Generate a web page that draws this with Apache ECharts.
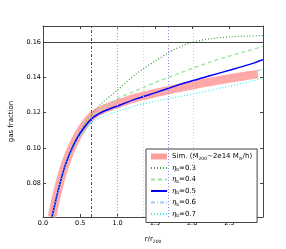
<!DOCTYPE html>
<html><head><meta charset="utf-8">
<script src="https://cdn.jsdelivr.net/npm/echarts@6/dist/echarts.min.js"></script>
<style>html,body{margin:0;padding:0;background:#fff}#c{width:286px;height:249px}</style>
</head><body><div id="c"></div>
<script>
// ---- data ----
const modelX = [0.12, 0.15, 0.2, 0.25, 0.3, 0.4, 0.5, 0.65, 0.8, 1.0, 1.25, 1.5, 1.75, 2.0, 2.25, 2.5, 2.75, 2.95];
const eta03 = [0.061, 0.0665, 0.0755, 0.0835, 0.0905, 0.1012, 0.1095, 0.119, 0.1258, 0.1328, 0.142, 0.149, 0.1555, 0.1598, 0.1618, 0.1628, 0.1633, 0.1636];
const eta04 = [0.061, 0.0665, 0.0755, 0.0835, 0.0905, 0.101, 0.109, 0.1178, 0.1225, 0.128, 0.1325, 0.137, 0.141, 0.145, 0.1487, 0.152, 0.155, 0.1575];
const eta05 = [0.061, 0.0665, 0.0755, 0.0835, 0.0905, 0.1008, 0.1085, 0.1165, 0.1205, 0.1238, 0.1278, 0.1312, 0.1347, 0.138, 0.141, 0.144, 0.147, 0.150];
const eta06 = [0.061, 0.0665, 0.0755, 0.0835, 0.0903, 0.1005, 0.108, 0.1157, 0.1195, 0.1228, 0.1265, 0.1295, 0.1325, 0.1352, 0.1378, 0.1402, 0.1425, 0.1445];
const eta07 = [0.061, 0.0665, 0.0755, 0.0833, 0.09, 0.1, 0.1072, 0.1145, 0.1178, 0.1208, 0.124, 0.1263, 0.1285, 0.1305, 0.1327, 0.135, 0.1373, 0.1393];
const simX = [0.12, 0.15, 0.2, 0.25, 0.3, 0.4, 0.5, 0.65, 0.8, 1.0, 1.25, 1.5, 1.75, 2.0, 2.25, 2.5, 2.75, 2.88];
const simY = [0.061, 0.067, 0.0762, 0.0842, 0.091, 0.1015, 0.1095, 0.1178, 0.1218, 0.125, 0.1285, 0.131, 0.1333, 0.1355, 0.1375, 0.1393, 0.141, 0.1418];
const xTicks = [0, 0.5, 1.0, 1.5, 2.0, 2.5];
const yTicks = [0.08, 0.10, 0.12, 0.14, 0.16];
const vLineX = [0.65, 1.0, 1.35, 1.68, 2.02];
const hLineY = 0.1605;
const legendLabels = {
  sim: 'Sim. (M{s|200}~2e14 M{s|⊙}/h)',
  e03: '{eta|η}{s|b}=0.3',
  e04: '{eta|η}{s|b}=0.4',
  e05: '{eta|η}{s|b}=0.5',
  e06: '{eta|η}{s|b}=0.6',
  e07: '{eta|η}{s|b}=0.7'
};

// ---- chart ----
const F = 'DejaVu Sans';
const pairs = (xs, ys) => xs.map((x, i) => [x, ys[i]]);
const spine = { color: '#444', width: 1 };
const subRich = { s: { fontFamily: F, fontSize: 4.5, padding: [4, 0, 0, 0] }, eta: { fontFamily: 'DejaVu Serif', fontStyle: 'italic', fontSize: 7 } };

const lineSeries = (name, ys, color, type, width, z) => ({
  name, type: 'line', data: pairs(modelX, ys), showSymbol: false, symbol: 'none', smooth: 0.25,
  lineStyle: { color, type, width }, itemStyle: { color }, z: z, silent: true
});

const option = {
  animation: false,
  grid: { left: 27, right: 23, top: 26, bottom: 23 },
  xAxis: [
    { type: 'value', min: 0, max: 2.95, position: 'bottom',
      axisLine: { onZero: false, lineStyle: spine },
      axisTick: { inside: true, length: 3, customValues: xTicks, lineStyle: spine },
      axisLabel: { customValues: xTicks, formatter: v => v.toFixed(1), margin: 3, fontFamily: F, fontSize: 6.5, color: '#000' },
      splitLine: { show: false },
      name: 'r/r{s|200}', nameLocation: 'middle', nameGap: 18,
      nameTextStyle: { fontFamily: F, fontSize: 7, color: '#000', rich: subRich } },
    { type: 'value', min: 0, max: 2.95, position: 'top',
      axisLine: { onZero: false, lineStyle: spine },
      axisTick: { inside: true, length: 3, customValues: xTicks, lineStyle: spine },
      axisLabel: { show: false }, splitLine: { show: false } }
  ],
  yAxis: [
    { type: 'value', min: 0.061, max: 0.169, position: 'left',
      axisLine: { onZero: false, lineStyle: spine },
      axisTick: { inside: true, length: 3, customValues: yTicks, lineStyle: spine },
      axisLabel: { customValues: yTicks, formatter: v => v.toFixed(2), margin: 2, fontFamily: F, fontSize: 6.5, color: '#000' },
      splitLine: { show: false },
      name: 'gas fraction', nameLocation: 'middle', nameGap: 28,
      nameTextStyle: { fontFamily: F, fontSize: 7, color: '#000' } },
    { type: 'value', min: 0.061, max: 0.169, position: 'right',
      axisLine: { onZero: false, lineStyle: spine },
      axisTick: { inside: true, length: 3, customValues: yTicks, lineStyle: spine },
      axisLabel: { show: false }, splitLine: { show: false } }
  ],
  legend: {
    orient: 'vertical', left: 146, top: 149,
    data: [{ name: 'sim', icon: 'rect', itemStyle: { color: '#ff9d9d', opacity: 1 } }, 'e03', 'e04', 'e05', 'e06', 'e07'],
    itemWidth: 16, itemHeight: 6, itemGap: 3.5,
    padding: [4, 5, 4, 4],
    itemStyle: { opacity: 0 },
    backgroundColor: '#fff', borderColor: '#444', borderWidth: 1, borderRadius: 0,
    formatter: n => legendLabels[n],
    textStyle: { fontFamily: F, fontSize: 7, color: '#000', rich: subRich },
    selectedMode: false
  },
  series: [
    { name: 'sim', type: 'line', data: pairs(simX, simY), showSymbol: false, symbol: 'none', smooth: 0.25,
      lineStyle: { color: '#ff9d9d', width: 8.5, cap: 'butt', opacity: 0.88 }, itemStyle: { color: '#ff9d9d' }, z: 2, silent: true },
    lineSeries('e03', eta03, '#3a9f3a', [1, 2], 1.2, 3),
    lineSeries('e04', eta04, '#98e698', [4, 3], 1.3, 3),
    lineSeries('e05', eta05, '#0000ff', 'solid', 1.5, 3),
    lineSeries('e06', eta06, '#9cc8ee', [4, 2, 1, 2], 1.1, 1.5),
    lineSeries('e07', eta07, '#40eeee', [1, 2], 1.2, 3),
    { name: 'refs', type: 'line', data: [], silent: true, z: 1,
      markLine: {
        silent: true, symbol: ['none', 'none'], label: { show: false }, animation: false,
        data: [
          { xAxis: vLineX[0], lineStyle: { color: '#555', type: [3, 2, 1, 2], width: 1 } },
          { xAxis: vLineX[1], lineStyle: { color: '#77c877', type: [1, 2], width: 1 } },
          { xAxis: vLineX[2], lineStyle: { color: '#b8ecb8', type: [1, 2], width: 1 } },
          { xAxis: vLineX[3], lineStyle: { color: '#8888ff', type: [1, 2], width: 1 } },
          { xAxis: vLineX[4], lineStyle: { color: '#88f4f4', type: [1, 2], width: 1 } },
          { yAxis: hLineY, lineStyle: { color: '#444', type: 'solid', width: 1.2 } }
        ]
      } }
  ]
};
const chart = echarts.init(document.getElementById('c'));
chart.setOption(option);
</script>
</body></html>
